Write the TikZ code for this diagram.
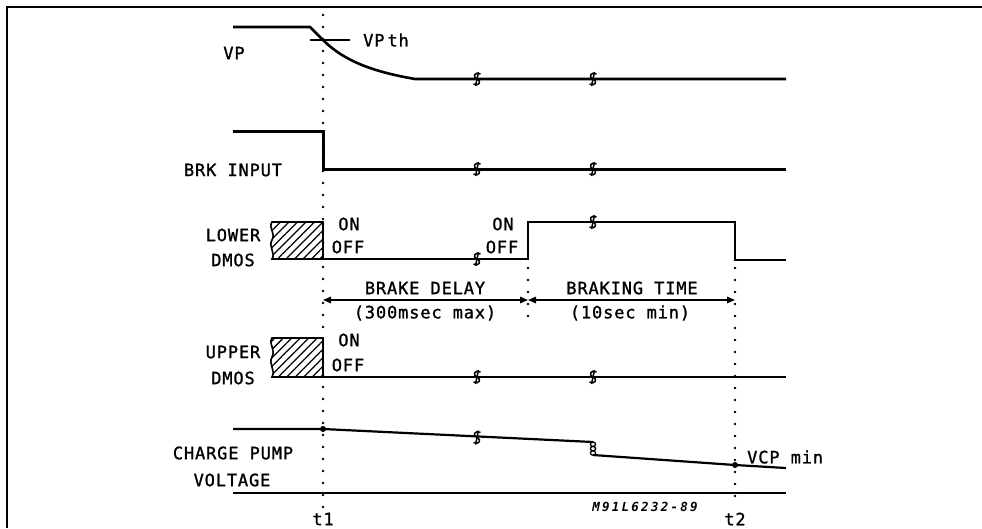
\documentclass[tikz,border=0pt]{standalone}
\usepackage{fontspec}
\newfontfamily\plotfont[LetterSpace=5,FakeBold=1.2]{DejaVu Sans Mono}
\newfontfamily\codefont[LetterSpace=18]{DejaVu Sans Mono}
\usetikzlibrary{patterns.meta,arrows.meta}
\tikzset{
  lbl/.style={font=\plotfont\fontsize{17}{17}\selectfont, inner sep=0pt},
  code/.style={font=\codefont\bfseries\itshape\fontsize{12.5}{12.5}\selectfont, inner sep=0pt},
  wave/.style={line width=2.6pt, line join=miter},
  thinwave/.style={line width=2.2pt},
  tdot/.style={line width=2.8pt, line cap=round, dash pattern=on 0pt off 12pt},
  frame/.style={line width=2pt},
  hatchbox/.style={line width=1.6pt, pattern={Lines[angle=45,distance=6pt,line width=1.3pt]}},
  dimarrow/.style={line width=1.5pt, {Triangle[length=8pt,width=6.5pt]}-{Triangle[length=8pt,width=6.5pt]}},
  brk/.pic={
    \draw[line width=1.5pt] (3.5,-5) .. controls (-2,-8) and (-5,-2) .. (0,0)
       .. controls (5,2) and (2,8) .. (-3.5,5);
    \draw[line width=1.5pt] (-1.5,7) -- (1.5,-7);
  }
}
\begin{document}
\begin{tikzpicture}[x=1pt,y=-1pt]
\useasboundingbox (0,0) rectangle (982,528);
% frame
\draw[frame] (7,528) -- (7,7) -- (982,7);

% time marker dotted lines
\coordinate (t1top) at (323,15);
\coordinate (t1bot) at (323,507);
\coordinate (t2top) at (735,268);
\coordinate (t2bot) at (735,507);
\coordinate (mtop) at (528,268);
\coordinate (mbot) at (528,322);
\draw[tdot] (t1top) -- (t1bot);
\draw[tdot] (t2top) -- (t2bot);
\draw[tdot] (mtop) -- (mbot);

% VP
\draw[wave] (233,27) -- (310,27) -- (323,40) .. controls (345,62) and (375,72) .. (415,79) -- (786,79);
\draw[line width=1.6pt] (310,40) -- (350,40);
\node[lbl, anchor=west] (vpth) at (363,40) {VP\kern3pt th};
\node[lbl] (vp) at (234,53) {VP};
\pic at (477,79) {brk};
\pic at (593,79) {brk};

% BRK INPUT
\draw[wave, line width=3pt] (233,131) -- (323,131) -- (323,169) -- (786,169);
\node[lbl] (brkin) at (233,170) {BRK INPUT};
\pic at (477,169) {brk};
\pic at (593,169) {brk};

% LOWER DMOS
\draw[hatchbox] (323,222) -- (272,222) .. controls (268,228) and (276,233) .. (272,240)
  .. controls (268,247) and (276,253) .. (272,259) -- (323,259) -- cycle;
\draw[wave] (323,222) -- (323,259) -- (528,259) -- (528,222) -- (735,222) -- (735,260) -- (786,260);
\node[lbl] (lower) at (233,235) {LOWER};
\node[lbl] (ldmos) at (233,260) {DMOS};
\node[lbl] (lon1) at (349,224) {ON};
\node[lbl] (loff1) at (348,247) {OFF};
\node[lbl] (lon2) at (503,224) {ON};
\node[lbl] (loff2) at (502,247) {OFF};
\pic at (477,259) {brk};
\pic at (593,222) {brk};

% interval arrows
\coordinate (a1) at (323,300);
\coordinate (a2) at (528,300);
\coordinate (a3) at (735,300);
\draw[dimarrow] (a1) -- (a2);
\draw[dimarrow] (a2) -- (a3);
\node[lbl] (bd) at (425,288) {BRAKE DELAY};
\node[lbl] (bdv) at (425,313) {(300msec max)};
\node[lbl] (bt) at (632,288) {BRAKING TIME};
\node[lbl] (btv) at (630,313) {(10sec min)};

% UPPER DMOS
\draw[hatchbox] (323,338) -- (272,338) .. controls (268,344) and (276,349) .. (272,357)
  .. controls (268,364) and (276,370) .. (272,377) -- (323,377) -- cycle;
\draw[wave] (323,338) -- (323,377) -- (786,377);
\node[lbl] (upper) at (233,352) {UPPER};
\node[lbl] (udmos) at (233,378) {DMOS};
\node[lbl] (uon) at (349,340) {ON};
\node[lbl] (uoff) at (348,365) {OFF};
\pic at (477,377) {brk};
\pic at (593,377) {brk};

% CHARGE PUMP VOLTAGE
\draw[thinwave] (233,429) -- (323,429) -- (593,442);
\draw[thinwave] (593,455) -- (735,465) -- (786,468);
\draw[line width=1.3pt] (593,444.2) circle[x radius=2.6pt, y radius=2.2pt]
  (593,448.6) circle[x radius=2.6pt, y radius=2.2pt]
  (593,453) circle[x radius=2.6pt, y radius=2.2pt];
\draw[thinwave] (233,493) -- (786,493);
\fill (323,429) circle[radius=3pt];
\fill (735,465) circle[radius=3pt];
\pic at (477,437.5) {brk};
\node[lbl] (cp) at (233,453) {CHARGE PUMP};
\node[lbl] (volt) at (232,480) {VOLTAGE};
\node[lbl, anchor=west] (vcp) at (747,457) {VCP min};
\node[code] (ref) at (645,507) {M91L6232-89};
\node[lbl] (t1) at (323,519) {t1};
\node[lbl] (t2) at (735,519) {t2};
\end{tikzpicture}
\end{document}
